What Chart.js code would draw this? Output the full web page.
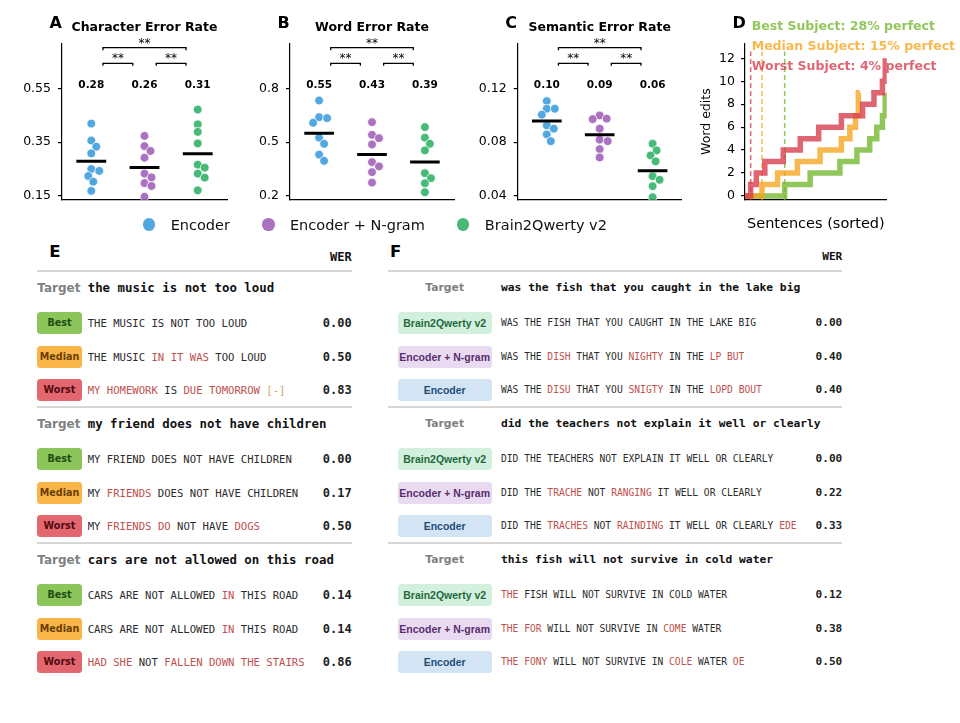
<!DOCTYPE html>
<html>
<head>
<meta charset="utf-8">
<script src="https://cdn.jsdelivr.net/npm/chart.js@4.4.1/dist/chart.umd.min.js"></script>
<style>
  body { margin: 0; background: #fff; }
  #fig { position: relative; width: 960px; height: 723px; overflow: hidden; background: #fff; font-family: "DejaVu Sans", sans-serif; }
  #fig canvas { position: absolute; left: 0; top: 0; }
  #legend { position: absolute; left: 142.7px; top: 214.5px; height: 20px; display: flex; align-items: center; gap: 32px; font-size: 14.5px; color: #111; }
  #legend .item { display: flex; align-items: center; }
  #legend .dot { width: 12.6px; height: 12.6px; border-radius: 50%; margin-right: 15.4px; }
  .err { color: #c0504d; }
  .del { color: #d9a066; }
</style>
</head>
<body>
<div id="fig">
  <canvas id="chartA" width="960" height="240"></canvas>
  <canvas id="chartB" width="960" height="240"></canvas>
  <canvas id="chartC" width="960" height="240"></canvas>
  <canvas id="chartD" width="960" height="240"></canvas>
  <div id="legend"></div>
  <div id="tables"></div>
</div>
<script>
// ---- data: panels A-C (one point per subject) ----
const methods = ['Encoder', 'Encoder + N-gram', 'Brain2Qwerty v2'];

const cerEncoder = [0.419, 0.356, 0.333, 0.308, 0.250, 0.243, 0.224, 0.203, 0.169];
const cerNgram   = [0.373, 0.335, 0.317, 0.292, 0.233, 0.219, 0.198, 0.187, 0.147];
const cerB2Q     = [0.471, 0.416, 0.388, 0.345, 0.266, 0.255, 0.233, 0.218, 0.171];
const cerMeans   = [0.279, 0.256, 0.307];
const cerTicks   = [0.15, 0.35, 0.55];
const cerTickLabels = ['0.15', '0.35', '0.55'];

const werEncoder = [0.732, 0.639, 0.634, 0.608, 0.525, 0.491, 0.431, 0.396];
const werNgram   = [0.611, 0.541, 0.522, 0.487, 0.389, 0.365, 0.333, 0.275];
const werB2Q     = [0.584, 0.525, 0.491, 0.454, 0.327, 0.299, 0.271, 0.221];
const werMeans   = [0.550, 0.431, 0.389];
const werTicks   = [0.2, 0.5, 0.8];
const werTickLabels = ['0.2', '0.5', '0.8'];

const semEncoder = [0.1105, 0.1048, 0.1048, 0.1004, 0.0924, 0.0900, 0.0857, 0.0807];
const semNgram   = [0.0998, 0.0974, 0.0971, 0.0900, 0.0818, 0.0807, 0.0748, 0.0686];
const semB2Q     = [0.0788, 0.0738, 0.0701, 0.0657, 0.0547, 0.0520, 0.0473, 0.0391];
const semMeans   = [0.0956, 0.0855, 0.0587];
const semTicks   = [0.04, 0.08, 0.12];
const semTickLabels = ['0.04', '0.08', '0.12'];

const sigPairs  = [[0, 2], [0, 1], [1, 2]];
const sigLabels = ['**', '**', '**'];

// ---- data: panel D (cumulative word edits over sorted sentences) ----
const subjects   = ['Best', 'Median', 'Worst'];
const perfectPct = [28, 15, 4];
const bestSent   = [0, 28, 46, 67, 79, 88, 93, 97, 99];
const bestEdits  = [0, 1, 2, 3, 4, 5, 6, 7, 9];
const medianSent  = [0, 12, 23, 37, 53, 68, 74, 78, 80, 81];
const medianEdits = [0, 1, 2, 3, 4, 5, 6, 7, 9, 9];
const worstSent  = [0, 4, 8, 14, 27, 39, 52, 68, 83, 91, 97, 99];
const worstEdits = [0, 1, 2, 3, 4, 5, 6, 7, 8, 9, 10, 12];
const editTicks  = [0, 2, 4, 6, 8, 10, 12];

// ---- data: tables E / F ----  (*word = error, ~token = deletion)
const eLabels  = ['Best', 'Median', 'Worst'];
const eTargets = ['the music is not too loud', 'my friend does not have children', 'cars are not allowed on this road'];
const ePreds = [
  ['THE MUSIC IS NOT TOO LOUD', 'THE MUSIC *IN *IT *WAS TOO LOUD', '*MY *HOMEWORK IS *DUE *TOMORROW ~[-]'],
  ['MY FRIEND DOES NOT HAVE CHILDREN', 'MY *FRIENDS DOES NOT HAVE CHILDREN', 'MY *FRIENDS *DO NOT HAVE *DOGS'],
  ['CARS ARE NOT ALLOWED *IN THIS ROAD', 'CARS ARE NOT ALLOWED *IN THIS ROAD', '*HAD *SHE NOT *FALLEN *DOWN *THE *STAIRS'],
];
const eWer = [[0.00, 0.50, 0.83], [0.00, 0.17, 0.50], [0.14, 0.14, 0.86]];

const fLabels  = ['Brain2Qwerty v2', 'Encoder + N-gram', 'Encoder'];
const fTargets = ['was the fish that you caught in the lake big', 'did the teachers not explain it well or clearly', 'this fish will not survive in cold water'];
const fPreds = [
  ['WAS THE FISH THAT YOU CAUGHT IN THE LAKE BIG', 'WAS THE *DISH THAT YOU *NIGHTY IN THE *LP *BUT', 'WAS THE *DISU THAT YOU *SNIGTY IN THE *LOPD *BOUT'],
  ['DID THE TEACHERS NOT EXPLAIN IT WELL OR CLEARLY', 'DID THE *TRACHE NOT *RANGING IT WELL OR CLEARLY', 'DID THE *TRACHES NOT *RAINDING IT WELL OR CLEARLY *EDE'],
  ['*THE FISH WILL NOT SURVIVE IN COLD WATER', '*THE *FOR WILL NOT SURVIVE IN *COME WATER', '*THE *FONY WILL NOT SURVIVE IN *COLE WATER *OE'],
];
const fWer = [[0.00, 0.40, 0.40], [0.00, 0.22, 0.33], [0.12, 0.38, 0.50]];

// ---- styles ----
const methodColors = ['rgba(52,152,219,0.85)', 'rgba(155,89,182,0.85)', 'rgba(39,174,96,0.85)'];
const subjectColors = ['rgba(118,184,50,0.8)', 'rgba(245,166,35,0.8)', 'rgba(214,62,78,0.8)'];

Chart.defaults.font.family = '"DejaVu Sans", sans-serif';
Chart.defaults.color = '#000';

const CANVAS_W = 960, CANVAS_H = 240;
const AREA_TOP = 43.3, AREA_BOTTOM = 200;
const X_MIN = -0.55, X_MAX = 2.55;

// 画标题、字母、显著性括号、均值标签等
const decorPlugin = {
  id: 'decor',
  afterDatasetsDraw(chart, args, o) {
    const { ctx, chartArea: ca, scales } = chart;
    const xs = scales.x;
    ctx.save();
    ctx.fillStyle = '#000';
    ctx.textBaseline = 'alphabetic';
    if (o.letter) {
      ctx.font = 'bold 16px "DejaVu Sans"';
      ctx.textAlign = 'left';
      ctx.fillText(o.letter, ca.left - 12.5, ca.top - 15);
    }
    if (o.title) {
      ctx.font = 'bold 12.5px "DejaVu Sans"';
      ctx.textAlign = 'center';
      ctx.fillText(o.title, (ca.left + ca.right) / 2, ca.top - 12.3);
    }
    if (o.brackets) {
      ctx.lineWidth = 1.3;
      ctx.strokeStyle = '#000';
      ctx.font = '12px "DejaVu Sans"';
      ctx.textAlign = 'center';
      o.brackets.forEach(([a, b], k) => {
        const y = ca.top + (b - a > 1 ? 4.4 : 20);
        const x1 = xs.getPixelForValue(a + 0.22);
        const x2 = xs.getPixelForValue(b - 0.22);
        ctx.beginPath();
        ctx.moveTo(x1, y + 2.5); ctx.lineTo(x1, y); ctx.lineTo(x2, y); ctx.lineTo(x2, y + 2.5);
        ctx.stroke();
        ctx.fillText(o.bracketLabels[k], (x1 + x2) / 2, y - 1.2);
      });
    }
    if (o.means) {
      ctx.font = 'bold 10.5px "DejaVu Sans"';
      ctx.textAlign = 'center';
      ctx.textBaseline = 'middle';
      o.means.forEach((m, i) => ctx.fillText(m.toFixed(2), xs.getPixelForValue(i), ca.top + 41.5));
    }
    if (o.subjectLines) {
      ctx.font = 'bold 12.5px "DejaVu Sans"';
      ctx.textAlign = 'left';
      ctx.textBaseline = 'alphabetic';
      o.subjectLines.forEach((s, i) => {
        ctx.fillStyle = s.color;
        ctx.fillText(s.text, ca.left + 6.7, ca.top - 13.3 + i * 20);
      });
      ctx.fillStyle = '#000';
    }
    if (o.xTitle) {
      ctx.font = '14.5px "DejaVu Sans"';
      ctx.textAlign = 'center';
      ctx.textBaseline = 'middle';
      ctx.fillText(o.xTitle, (ca.left + ca.right) / 2, ca.bottom + 24);
    }
    if (o.yTitle) {
      ctx.font = '12.5px "DejaVu Sans"';
      ctx.textAlign = 'center';
      ctx.textBaseline = 'middle';
      ctx.translate(ca.left - 38.3, (ca.top + ca.bottom) / 2);
      ctx.rotate(-Math.PI / 2);
      ctx.fillText(o.yTitle, 0, 0);
    }
    ctx.restore();
  }
};

// 简单 beeswarm：按像素距离避免点重叠
function swarmOffsets(values, pxY, pxX, gap) {
  const placed = [];
  return values.map(v => {
    const y = v * pxY;
    let dx = 0;
    for (let k = 0; k < 80; k++) {
      const cand = k === 0 ? 0 : (k % 2 ? 1 : -1) * Math.ceil(k / 2);
      if (placed.every(p => Math.hypot(p.x - cand, p.y - y) >= gap)) { dx = cand; break; }
    }
    placed.push({ x: dx, y });
    return dx / pxX;
  });
}

function axisStyle() {
  return {
    border: { display: true, color: '#000', width: 1.2 },
  };
}

function swarmChart(id, area, yMin, yMax, ticks, tickLabels, series, means, title, letter) {
  const pxX = (area.right - area.left) / (X_MAX - X_MIN);
  const pxY = (AREA_BOTTOM - AREA_TOP) / (yMax - yMin);
  const datasets = [];
  series.forEach((vals, i) => {
    const offs = swarmOffsets(vals, pxY, pxX, 7.5);
    datasets.push({
      data: vals.map((v, j) => ({ x: i + offs[j], y: v })),
      backgroundColor: methodColors[i],
      borderColor: '#fff',
      borderWidth: 0.8,
      pointRadius: 4.4,
      order: 1,
    });
  });
  means.forEach((m, i) => {
    datasets.push({
      data: [{ x: i - 0.28, y: m }, { x: i + 0.28, y: m }],
      showLine: true,
      borderColor: '#000',
      borderWidth: 3,
      pointRadius: 0,
      order: 0,
    });
  });

  return new Chart(document.getElementById(id), {
    type: 'scatter',
    data: { datasets },
    options: {
      responsive: false,
      animation: false,
      devicePixelRatio: 1,
      layout: {
        autoPadding: false,
        padding: { left: area.left - 40, right: CANVAS_W - area.right, top: AREA_TOP, bottom: CANVAS_H - AREA_BOTTOM },
      },
      plugins: {
        legend: { display: false },
        tooltip: { enabled: false },
        decor: { letter, title, means, brackets: sigPairs, bracketLabels: sigLabels },
      },
      scales: {
        x: {
          type: 'linear', min: X_MIN, max: X_MAX,
          ticks: { display: false },
          grid: { display: false },
          ...axisStyle(),
          afterFit: s => { s.height = 0; },
        },
        y: {
          min: yMin, max: yMax,
          afterFit: s => { s.width = 40; },
          afterBuildTicks: s => { s.ticks = ticks.map(v => ({ value: v })); },
          ticks: { callback: (v, i) => tickLabels[i], color: '#000', font: { size: 12.5 }, padding: 7 },
          grid: { display: true, drawOnChartArea: false, drawTicks: true, tickLength: 4, color: '#000', lineWidth: 1.2 },
          ...axisStyle(),
        },
      },
    },
    plugins: [decorPlugin],
  });
}

swarmChart('chartA', { left: 62, right: 227 }, 0.135, 0.717, cerTicks, cerTickLabels,
  [cerEncoder, cerNgram, cerB2Q], cerMeans, 'Character Error Rate', 'A');
swarmChart('chartB', { left: 290, right: 454 }, 0.1777, 1.0507, werTicks, werTickLabels,
  [werEncoder, werNgram, werB2Q], werMeans, 'Word Error Rate', 'B');
swarmChart('chartC', { left: 517.7, right: 681.7 }, 0.037, 0.1534, semTicks, semTickLabels,
  [semEncoder, semNgram, semB2Q], semMeans, 'Semantic Error Rate', 'C');

// ---- panel D ----
(function () {
  const curves = [[bestSent, bestEdits], [medianSent, medianEdits], [worstSent, worstEdits]];
  const datasets = [];
  curves.forEach(([xs, ys], i) => {
    datasets.push({
      data: [{ x: xs[1], y: -0.35 }, { x: xs[1], y: 12.6 }],
      showLine: true, borderColor: subjectColors[i], borderWidth: 1.5,
      borderDash: [5, 3], pointRadius: 0, order: 5,
    });
  });
  curves.forEach(([xs, ys], i) => {
    datasets.push({
      data: xs.map((x, j) => ({ x, y: ys[j] })),
      showLine: true, stepped: true, borderColor: subjectColors[i], borderWidth: 5.5,
      pointRadius: 0, order: 2 - i,
    });
  });

  new Chart(document.getElementById('chartD'), {
    type: 'scatter',
    data: { datasets },
    options: {
      responsive: false,
      animation: false,
      devicePixelRatio: 1,
      layout: {
        autoPadding: false,
        padding: { left: 745 - 40, right: CANVAS_W - 886.7, top: AREA_TOP, bottom: CANVAS_H - AREA_BOTTOM },
      },
      plugins: {
        legend: { display: false },
        tooltip: { enabled: false },
        decor: {
          letter: 'D',
          subjectLines: subjects.map((s, i) => ({ text: s + ' Subject: ' + perfectPct[i] + '% perfect', color: subjectColors[i] })),
          xTitle: 'Sentences (sorted)',
          yTitle: 'Word edits',
        },
      },
      scales: {
        x: {
          type: 'linear', min: 0, max: 100,
          ticks: { display: false },
          grid: { display: false },
          ...axisStyle(),
          afterFit: s => { s.height = 0; },
        },
        y: {
          min: -0.35, max: 13.31,
          afterFit: s => { s.width = 40; },
          afterBuildTicks: s => { s.ticks = editTicks.map(v => ({ value: v })); },
          ticks: { color: '#000', font: { size: 12.5 }, padding: 6 },
          grid: { display: true, drawOnChartArea: false, drawTicks: true, tickLength: 4, color: '#000', lineWidth: 1.2 },
          ...axisStyle(),
        },
      },
    },
    plugins: [decorPlugin],
  });
})();

// ---- legend ----
const legendEl = document.getElementById('legend');
methods.forEach((m, i) => {
  const it = document.createElement('div');
  it.className = 'item';
  it.innerHTML = `<span class="dot" style="background:${methodColors[i]}"></span><span>${m}</span>`;
  legendEl.appendChild(it);
});

// ---- tables E / F ----
const TABLE_TOP = 271, GROUP_H = 136;

function tokensHtml(s) {
  return s.split(' ').map(w => {
    if (w[0] === '*') return `<span class="err">${w.slice(1)}</span>`;
    if (w[0] === '~') return `<span class="del">${w.slice(1)}</span>`;
    return w;
  }).join(' ');
}

function buildTable(cfg) {
  const root = document.getElementById('tables');
  // font 简写会重置 line-height，所以最后再设行高
  const add = (html, style) => {
    const d = document.createElement('div');
    d.innerHTML = html;
    Object.assign(d.style, { position: 'absolute', whiteSpace: 'pre' }, style);
    if (style.lineHeight) d.style.lineHeight = style.lineHeight;
    root.appendChild(d);
    return d;
  };
  add(cfg.letter, { left: cfg.letterX + 'px', top: '240.5px', lineHeight: '22px', font: 'bold 16.5px "DejaVu Sans"', color: '#000' });
  add('WER', { left: (cfg.right - 100) + 'px', width: '100px', textAlign: 'right', top: '247.3px', lineHeight: '20px',
    font: `bold ${cfg.werSize}px "DejaVu Sans Mono"`, color: '#111' });

  cfg.targets.forEach((t, g) => {
    const top = TABLE_TOP + g * GROUP_H;
    add('', { left: cfg.left + 'px', width: (cfg.right - cfg.left) + 'px', top: (top - 0.75) + 'px', height: '1.5px', background: '#d6d6d6' });
    const tc = top + 17.3;
    add('Target', { left: cfg.badgeLeft + 'px', width: cfg.badgeW + 'px', textAlign: cfg.targetAlign, top: (tc - 11) + 'px',
      lineHeight: '22px', font: `bold ${cfg.targetLabelSize}px "DejaVu Sans"`, color: '#808080' });
    add(t, { left: cfg.textX + 'px', top: (tc - 11) + 'px', lineHeight: '22px', font: `bold ${cfg.targetSize}px "DejaVu Sans Mono"`, color: '#111' });

    cfg.preds[g].forEach((p, k) => {
      const c = top + 52.3 + k * 33.35;
      add(cfg.labels[k], { left: cfg.badgeLeft + 'px', width: cfg.badgeW + 'px', height: '22px', top: (c - 11) + 'px', lineHeight: '22px',
        textAlign: 'center', borderRadius: '3.5px', background: cfg.badgeBg[k], color: cfg.badgeFg[k], font: cfg.badgeFont });
      add(tokensHtml(p), { left: cfg.textX + 'px', top: (c - 11) + 'px', lineHeight: '22px', font: `${cfg.rowSize}px "DejaVu Sans Mono"`, color: '#2b2b2b' });
      add(cfg.wer[g][k].toFixed(2), { left: (cfg.right - 100) + 'px', width: '100px', textAlign: 'right', top: (c - 11) + 'px', lineHeight: '22px',
        font: `bold ${cfg.werSize}px "DejaVu Sans Mono"`, color: '#222' });
    });
  });
}

buildTable({
  letter: 'E', letterX: 49.3, left: 37.3, right: 351.7,
  badgeLeft: 37.3, badgeW: 44.4, targetAlign: 'left', textX: 87.7,
  targetLabelSize: 12, targetSize: 12.4, rowSize: 10.6, werSize: 12,
  badgeFont: 'bold 9.6px "DejaVu Sans"',
  badgeBg: ['#8cc65a', '#f9b548', '#e2676e'], badgeFg: ['#1f4d12', '#6b3f00', '#4f0a12'],
  labels: eLabels, targets: eTargets, preds: ePreds, wer: eWer,
});
buildTable({
  letter: 'F', letterX: 390, left: 388.3, right: 842.3,
  badgeLeft: 397.7, badgeW: 94, targetAlign: 'center', textX: 501,
  targetLabelSize: 10.8, targetSize: 11.3, rowSize: 9.65, werSize: 11.1,
  badgeFont: 'bold 10.5px "Liberation Sans"',
  badgeBg: ['#d3efdd', '#e8dbf1', '#d3e5f5'], badgeFg: ['#1e6b3a', '#5b2d6e', '#1f4d78'],
  labels: fLabels, targets: fTargets, preds: fPreds, wer: fWer,
});
</script>
</body>
</html>
